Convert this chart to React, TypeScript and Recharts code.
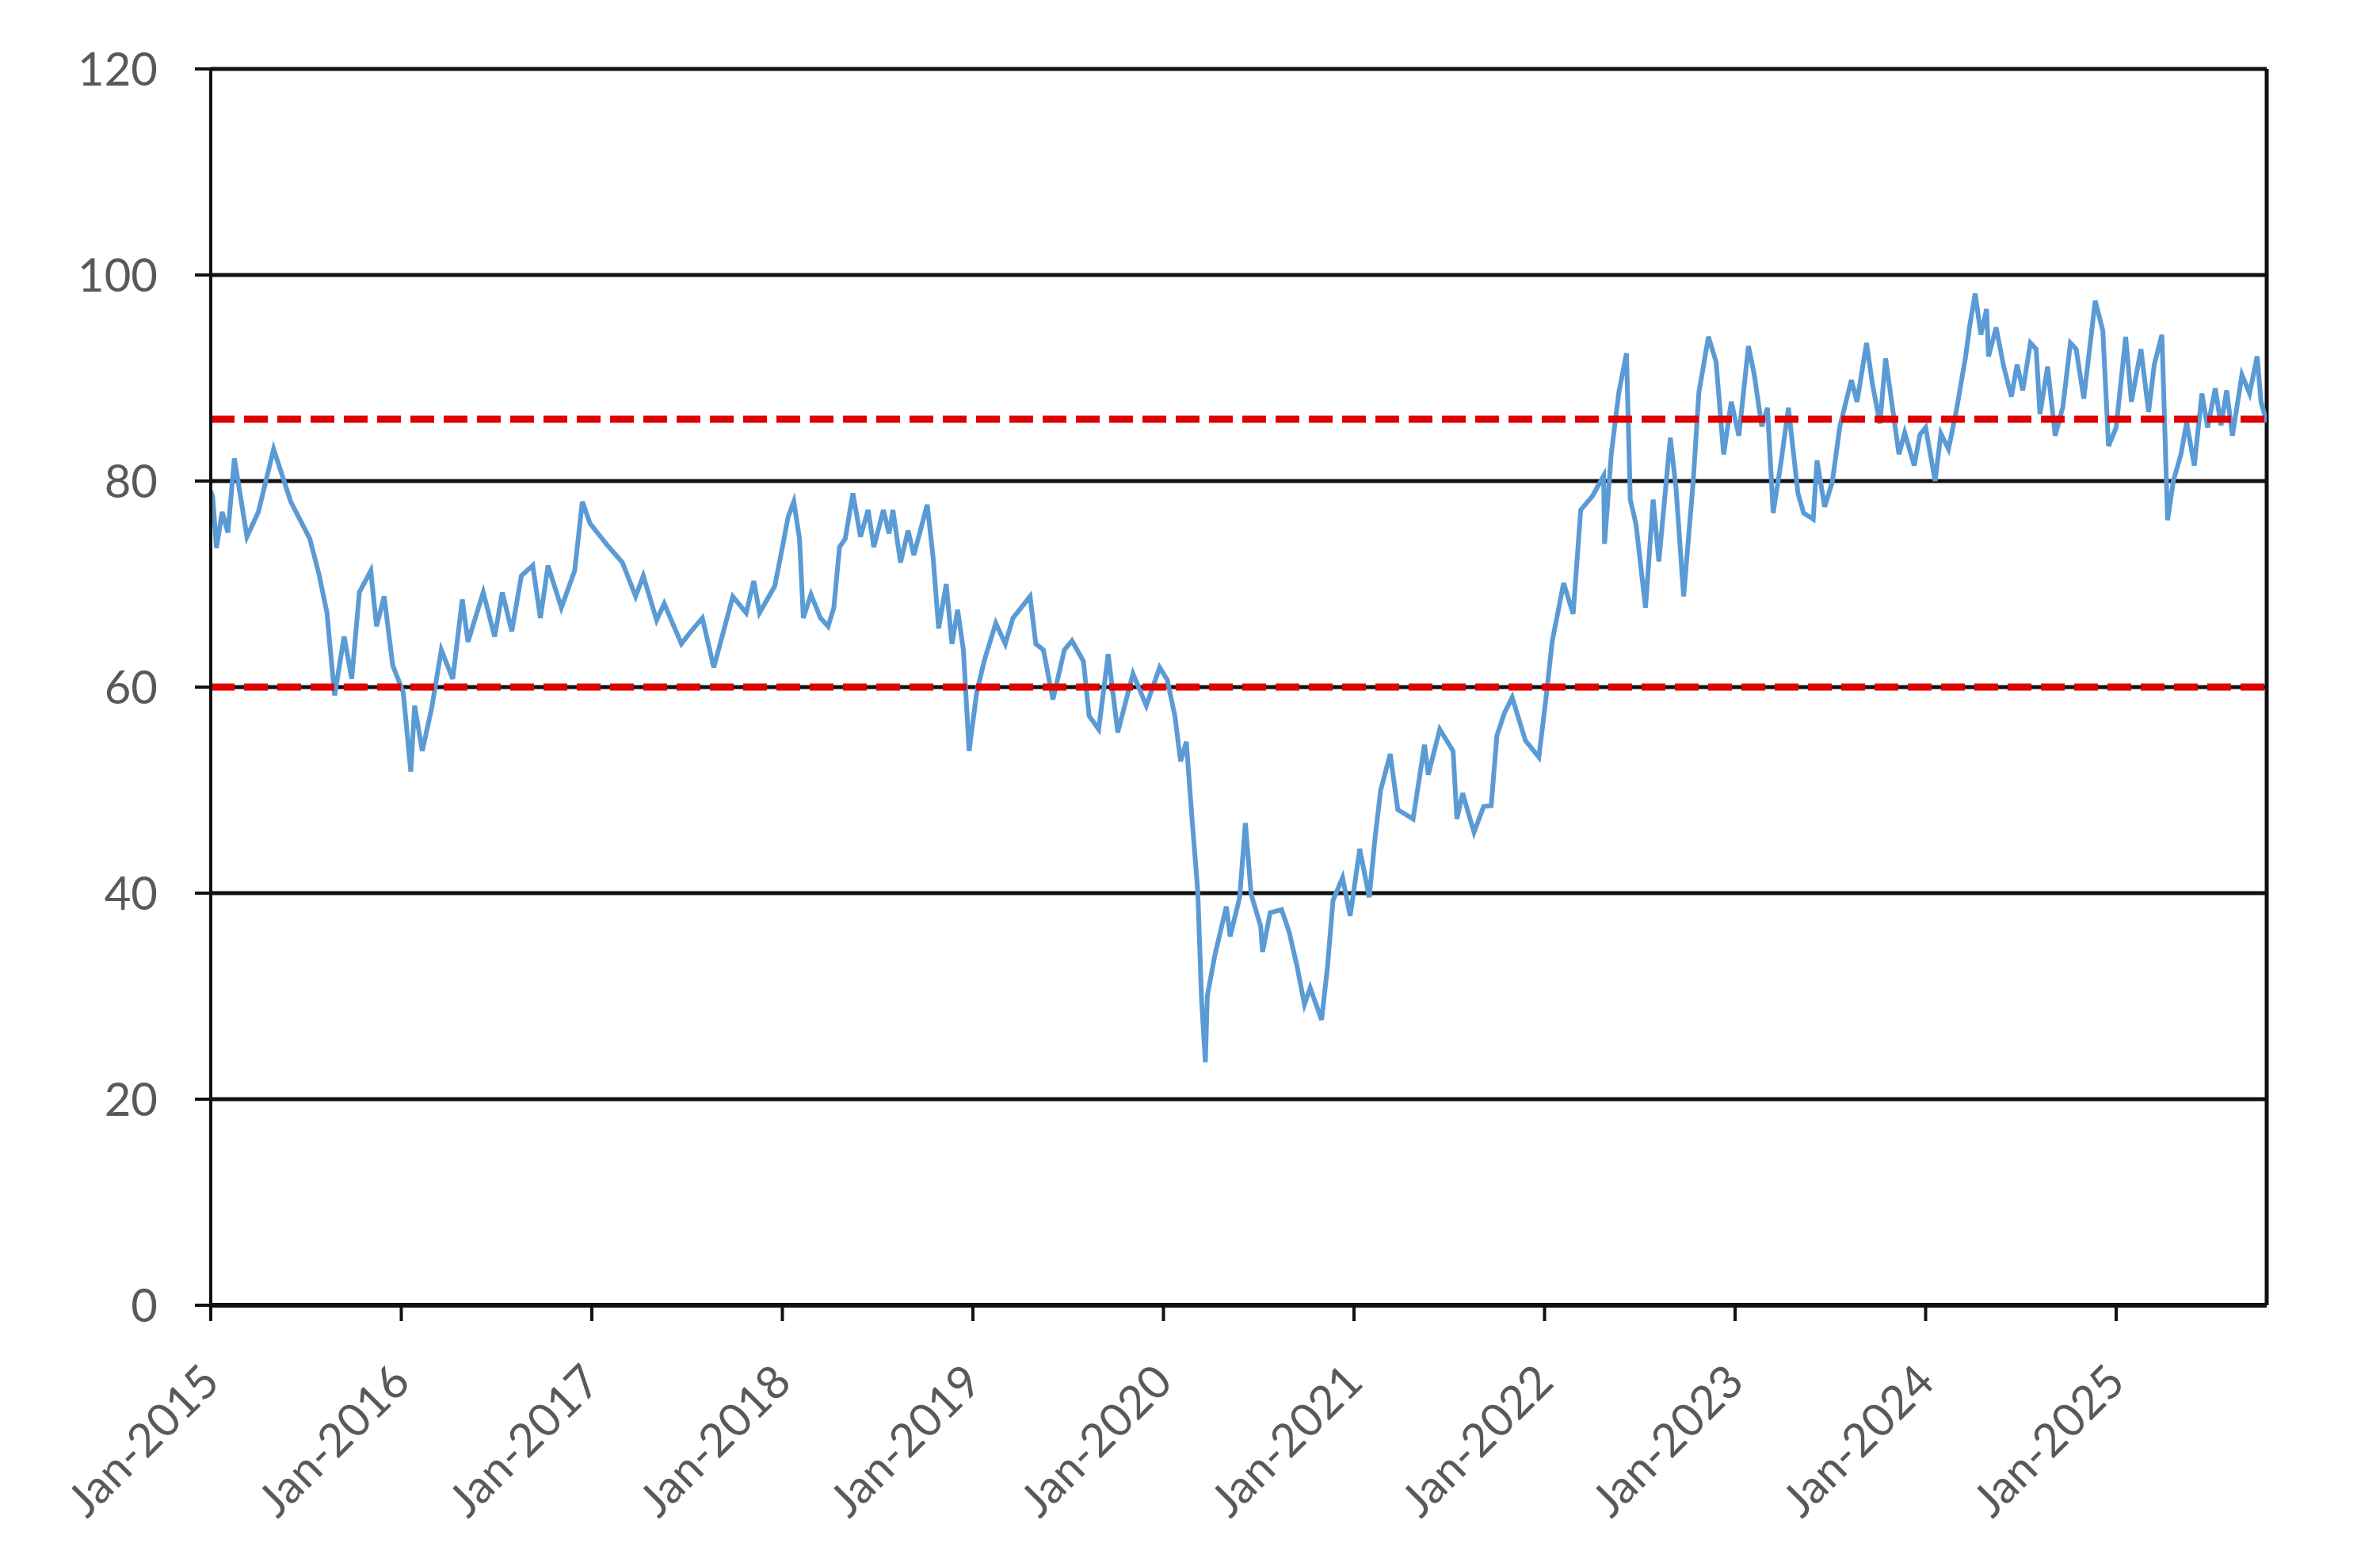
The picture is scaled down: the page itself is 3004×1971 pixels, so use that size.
import React from "react";
import { LineChart, Line, XAxis, YAxis, CartesianGrid, ReferenceLine } from "recharts";

// time as decimal year
const years: number[] = [
  2015.0, 2015.01, 2015.03, 2015.06, 2015.09, 2015.124, 2015.19, 2015.25, 2015.33, 2015.42,
  2015.52, 2015.57, 2015.61, 2015.65, 2015.7, 2015.74, 2015.78, 2015.84, 2015.87, 2015.91,
  2015.955, 2016.01, 2016.05, 2016.07, 2016.11, 2016.16, 2016.21, 2016.27, 2016.32, 2016.35,
  2016.43, 2016.49, 2016.53, 2016.58, 2016.63, 2016.69, 2016.73, 2016.77, 2016.84, 2016.91,
  2016.95, 2016.99, 2017.08, 2017.16, 2017.23, 2017.27, 2017.34, 2017.38, 2017.47, 2017.52,
  2017.58, 2017.64, 2017.74, 2017.81, 2017.85, 2017.88, 2017.96, 2017.99, 2018.03, 2018.06,
  2018.09, 2018.11, 2018.15, 2018.2, 2018.24, 2018.27, 2018.3, 2018.33, 2018.37, 2018.41,
  2018.45, 2018.48, 2018.53, 2018.56, 2018.58, 2018.62, 2018.66, 2018.69, 2018.76, 2018.79,
  2018.82, 2018.86, 2018.89, 2018.92, 2018.95, 2018.98, 2019.02, 2019.06, 2019.12, 2019.17,
  2019.21, 2019.3, 2019.33, 2019.37, 2019.42, 2019.48, 2019.52, 2019.58, 2019.61, 2019.66,
  2019.71, 2019.76, 2019.84, 2019.91, 2019.98, 2020.02, 2020.06, 2020.09, 2020.12, 2020.15,
  2020.18, 2020.2, 2020.22, 2020.23, 2020.27, 2020.33, 2020.35, 2020.4, 2020.43, 2020.46,
  2020.51, 2020.52, 2020.56, 2020.62, 2020.66, 2020.7, 2020.74, 2020.77, 2020.83, 2020.86,
  2020.89, 2020.94, 2020.98, 2021.03, 2021.08, 2021.11, 2021.14, 2021.19, 2021.23, 2021.31,
  2021.37, 2021.39, 2021.45, 2021.52, 2021.54, 2021.57, 2021.63, 2021.68, 2021.72, 2021.75,
  2021.79, 2021.83, 2021.9, 2021.97, 2022.01, 2022.04, 2022.1, 2022.15, 2022.19, 2022.25,
  2022.31, 2022.315, 2022.35, 2022.39, 2022.43, 2022.45, 2022.48, 2022.53, 2022.57, 2022.6,
  2022.66, 2022.69, 2022.73, 2022.78, 2022.81, 2022.86, 2022.9, 2022.94, 2022.98, 2023.02,
  2023.07, 2023.1, 2023.14, 2023.17, 2023.2, 2023.24, 2023.28, 2023.33, 2023.36, 2023.41,
  2023.43, 2023.47, 2023.51, 2023.55, 2023.61, 2023.64, 2023.69, 2023.72, 2023.76, 2023.79,
  2023.86, 2023.89, 2023.94, 2023.97, 2024.0, 2024.05, 2024.08, 2024.12, 2024.16, 2024.21,
  2024.23, 2024.26, 2024.29, 2024.32, 2024.33, 2024.37, 2024.41, 2024.45, 2024.48, 2024.51,
  2024.55, 2024.58, 2024.6, 2024.64, 2024.68, 2024.72, 2024.76, 2024.79, 2024.83, 2024.89,
  2024.93, 2024.96, 2025.0, 2025.05, 2025.08, 2025.13, 2025.17, 2025.2, 2025.24, 2025.27,
  2025.3, 2025.34, 2025.37, 2025.41, 2025.45, 2025.48, 2025.52, 2025.55, 2025.58, 2025.61,
  2025.66, 2025.7, 2025.74, 2025.76, 2025.79,
];

const index: number[] = [
  79, 78.5, 73.5, 77, 75, 82.2, 74.6, 77, 83.1, 78,
  74.4, 70.8, 67.2, 59.2, 64.9, 60.8, 69.2, 71.3, 65.9, 68.8,
  62.1, 59.5, 51.8, 58.2, 53.8, 58, 63.6, 60.8, 68.5, 64.4,
  69.2, 64.9, 69.2, 65.4, 70.8, 71.8, 66.7, 71.8, 67.7, 71.3,
  78, 75.9, 73.8, 72.1, 68.8, 70.8, 66.5, 68.1, 64.2, 65.4,
  66.7, 61.9, 68.8, 67.2, 70.3, 67.2, 69.8, 72.6, 76.5, 78,
  74.4, 66.7, 69, 66.7, 65.9, 67.7, 73.6, 74.4, 78.8, 74.6,
  77.2, 73.6, 77.2, 74.9, 77.2, 72.1, 75.2, 72.8, 77.7, 72.8,
  65.7, 70, 64.2, 67.5, 63.6, 53.8, 59.5, 62.6, 66.2, 64.2,
  66.7, 68.8, 64.2, 63.6, 58.8, 63.6, 64.5, 62.5, 57.2, 55.9,
  63.2, 55.6, 61.3, 58.2, 61.9, 60.7, 57.2, 52.8, 54.7, 47.2,
  40.2, 29.6, 23.6, 30, 34, 38.7, 35.8, 39.6, 46.8, 39.9,
  36.8, 34.3, 38.1, 38.4, 36.2, 33, 29.2, 30.8, 27.7, 32.7,
  39.3, 41.5, 37.8, 44.3, 39.6, 45.3, 50, 53.5, 48.1, 47.2,
  54.4, 51.5, 55.9, 53.8, 47.2, 49.7, 45.9, 48.4, 48.5, 55.3,
  57.5, 59, 54.8, 53.2, 59.3, 64.4, 70.1, 67.1, 77.2, 78.5,
  80.5, 73.9, 82.6, 88.6, 92.4, 78.2, 75.8, 67.7, 78.2, 72.2,
  84.2, 79.3, 68.8, 79.9, 88.6, 94, 91.6, 82.6, 87.7, 84.4,
  93.1, 90.4, 85.3, 87.1, 76.9, 81.7, 87.1, 78.8, 76.9, 76.3,
  82, 77.5, 79.9, 85.3, 89.8, 87.7, 93.4, 89.5, 85.6, 91.9,
  82.6, 84.7, 81.5, 84.5, 85.2, 80, 84.6, 83.1, 86.7, 92.1,
  94.9, 98.2, 94.2, 96.7, 92.1, 94.9, 91.1, 88.2, 91.3, 88.8,
  93.4, 92.8, 86.5, 91.1, 84.4, 87.2, 93.4, 92.8, 88, 97.5,
  94.6, 83.4, 85.2, 94, 87.7, 92.8, 86.7, 91.3, 94.2, 76.2,
  80, 82.6, 85.7, 81.5, 88.5, 85.2, 89, 85.4, 88.8, 84.4,
  90.3, 88.5, 92.1, 87.7, 85.7,
];

const xTicks = [2015, 2016, 2017, 2018, 2019, 2020, 2021, 2022, 2023, 2024, 2025];
const yTicks = [0, 20, 40, 60, 80, 100, 120];
const bands = [86, 60];
const lastYear = 2025.79;

const data = years.map((t, i) => ({ t, v: index[i] }));

const YearTick = (props: any) => {
  const { x, y, payload } = props;
  return (
    <g transform={`translate(${x + 14},${y + 80})`}>
      <text textAnchor="end" transform="rotate(-45)" fill="#595959" fontSize={58} fontFamily="Lato">
        {`Jan-${payload.value}`}
      </text>
    </g>
  );
};

export default function App() {
  return (
    <div style={{ width: 2990, height: 1960, background: "#fff" }}>
      <LineChart
        width={2990}
        height={1960}
        data={data}
        margin={{ top: 79, right: 137, bottom: 21, left: 0 }}
        style={{ fontFamily: "Lato" }}
      >
        <CartesianGrid vertical={false} stroke="#111" strokeWidth={5} />
        <XAxis
          dataKey="t"
          type="number"
          domain={[2015, lastYear]}
          ticks={xTicks}
          allowDataOverflow
          height={300}
          tickSize={20}
          tickMargin={0}
          tick={<YearTick />}
          tickLine={{ stroke: "#111", strokeWidth: 4 }}
          axisLine={{ stroke: "#111", strokeWidth: 6 }}
        />
        <YAxis
          domain={[0, 120]}
          ticks={yTicks}
          width={258}
          tickSize={20}
          tickMargin={47}
          tick={{ fill: "#595959", fontSize: 58, fontFamily: "Lato" }}
          tickLine={{ stroke: "#111", strokeWidth: 4 }}
          axisLine={{ stroke: "#111", strokeWidth: 4 }}
        />
        <ReferenceLine x={lastYear} stroke="#111" strokeWidth={5} />
        <Line
          type="linear"
          dataKey="v"
          stroke="#5B9BD5"
          strokeWidth={6}
          dot={false}
          isAnimationActive={false}
        />
        {bands.map((b) => (
          <ReferenceLine key={b} y={b} stroke="#E00000" strokeWidth={9} strokeDasharray="30 12" />
        ))}
      </LineChart>
    </div>
  );
}
